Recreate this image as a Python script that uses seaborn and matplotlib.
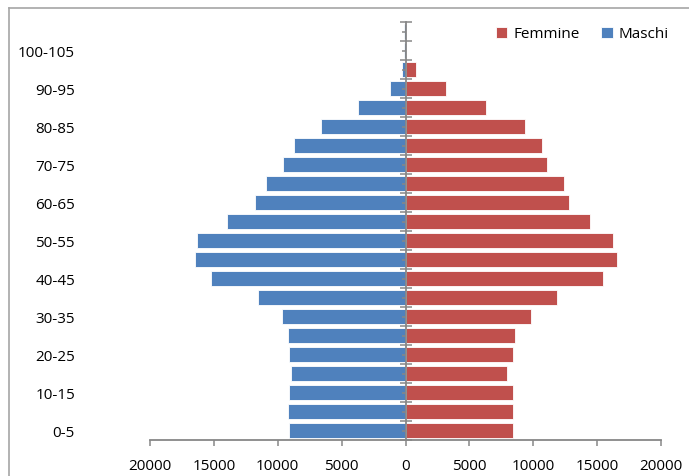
import seaborn as sns
import pandas as pd
import matplotlib.pyplot as plt
from matplotlib.lines import Line2D

# age classes, bottom to top
ages = ['0-5', '5-10', '10-15', '15-20', '20-25', '25-30', '30-35', '35-40',
        '40-45', '45-50', '50-55', '55-60', '60-65', '65-70', '70-75', '75-80',
        '80-85', '85-90', '90-95', '95-100', '100-105', '105-110']
maschi = [9150, 9200, 9150, 8950, 9150, 9200, 9700, 11550, 15200, 16450, 16300,
          13950, 11800, 10950, 9600, 8750, 6600, 3750, 1250, 300, 130, 100]
femmine = [8430, 8430, 8430, 7930, 8430, 8550, 9820, 11820, 15430, 16520, 16270,
           14420, 12800, 12420, 11080, 10690, 9320, 6330, 3200, 840, 60, 40]
xticks = [-20000, -15000, -10000, -5000, 0, 5000, 10000, 15000, 20000]

d = pd.DataFrame({
    'eta': ages * 2,
    'sesso': ['Femmine'] * len(ages) + ['Maschi'] * len(ages),
    'valore': femmine + [-v for v in maschi],
})

plt.rcParams['font.family'] = ['Open Sans', 'DejaVu Sans']
gray = '#878787'

fig = plt.figure(figsize=(6.89, 4.77), dpi=100)
ax = fig.add_axes([150 / 689, 1 - 441 / 477, 511 / 689, 418 / 477])

order = ages[::-1]
sns.barplot(data=d, x='valore', y='eta', hue='sesso', order=order,
            hue_order=['Femmine', 'Maschi'],
            palette={'Femmine': '#C0504D', 'Maschi': '#4F81BD'}, saturation=1,
            dodge=False, width=0.74, linewidth=0.6, edgecolor='white', ax=ax)

ax.set_xlim(-20000, 20000)
ax.set_ylim(len(ages) - 0.5, -0.5)
ax.set_xticks(xticks, labels=[str(abs(v)) for v in xticks])
ylabels = [a if (len(ages) - 1 - i) % 2 == 0 else '' for i, a in enumerate(order)]
ax.set_yticks(range(len(order)), labels=ylabels)
ax.set_yticks([i - 0.5 for i in range(len(order) + 1)], minor=True)
ax.set_xlabel('')
ax.set_ylabel('')

for s in ['top', 'right']:
    ax.spines[s].set_visible(False)
ax.spines['left'].set_position(('data', 0))
ax.spines['left'].set_color(gray)
ax.spines['left'].set_linewidth(1.3)
ax.spines['bottom'].set_color(gray)
ax.spines['bottom'].set_linewidth(1.3)

ax.tick_params(axis='x', colors=gray, length=4, width=1.1, labelcolor='black',
               labelsize=11, pad=9)
ax.tick_params(axis='y', which='major', colors=gray, length=3, width=1.1,
               labelcolor='black', labelsize=11, pad=235)
ax.tick_params(axis='y', which='minor', colors=gray, length=8, width=1.1,
               direction='inout')

ax.legend(loc='center right', bbox_to_anchor=(675 / 689, 1 - 35 / 477),
          bbox_transform=fig.transFigure, ncol=2, frameon=False, fontsize=11,
          handlelength=0.75, handleheight=0.75, handletextpad=0.4, columnspacing=1.4,
          borderaxespad=0)

# chart area frame (top and left edges visible)
fig.add_artist(Line2D([9 / 689, 1], [1 - 9 / 477] * 2, color='#a6a6a6', lw=1.2))
fig.add_artist(Line2D([9 / 689] * 2, [0, 1 - 9 / 477], color='#a6a6a6', lw=1.2))

plt.savefig('out.png', dpi=100)
